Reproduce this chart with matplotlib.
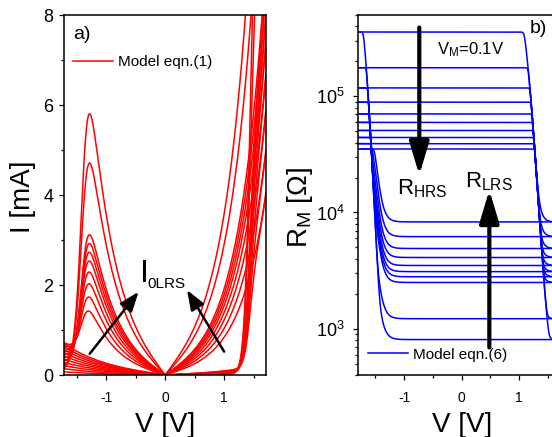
import numpy as np
import matplotlib
matplotlib.use('Agg')
import matplotlib.pyplot as plt
from matplotlib.ticker import LogLocator, NullFormatter, LogFormatterMathtext

plt.rcParams['font.family'] = ['Liberation Sans', 'DejaVu Sans']
plt.rcParams['mathtext.fontset'] = 'custom'
plt.rcParams['mathtext.rm'] = 'Liberation Sans'
plt.rcParams['mathtext.it'] = 'Liberation Sans:italic'
plt.rcParams['mathtext.bf'] = 'Liberation Sans:bold'
plt.rcParams['axes.unicode_minus'] = False

# ---------------- data ----------------
# panel a) : peak LRS current (mA) near V=-1.28 V, HRS current (mA) at V=-1.71 V
peak_current = [5.8, 4.7, 3.1, 2.9, 2.7, 2.5, 2.25, 1.98, 1.68, 1.36]
hrs_edge_current = [0.07, 0.14, 0.21, 0.28, 0.35, 0.42, 0.49, 0.56, 0.63, 0.70]
# panel b) : resistance levels (Ohm)
r_hrs = [357e3, 176e3, 118e3, 89e3, 70.5e3, 59.6e3, 50.8e3, 44.2e3, 39.1e3, 35.2e3]
r_lrs = [807, 1220, 2500, 2800, 3100, 3500, 4100, 4900, 6200, 8300]

x_ticks = [-1, 0, 1]
x_minor = [-1.5, -0.5, 0.5, 1.5]
ya_ticks = [0, 2, 4, 6, 8]
ya_minor = [1, 3, 5, 7]

RED = '#ff0000'
BLUE = '#0000ff'

# ---------------- figure ----------------
W, H = 552, 437
fig = plt.figure(figsize=(W / 100, H / 100), dpi=100)
axA = fig.add_axes([64.3 / W, 1 - 375 / H, (266 - 64.3) / W, 360 / H])
axB = fig.add_axes([358 / W, 1 - 375 / H, 3.6 * 57.6 / W, 360 / H])

# ---------------- panel a ----------------
vmax_a = 1.71
b_L, b_H = 2.2, 1.3
v_reset, w_reset = 1.393, 0.06
v_set, w_set = 1.42, 0.05
hrs_pos = 0.35


def reset_frac(v):
    h = 1.0 / (1.0 + np.exp((np.abs(v) - v_reset) / w_reset))
    return np.where(v < 0, h, 1.0)


def set_frac(v):
    s = 1.0 / (1.0 + np.exp(-(v - v_set) / w_set))
    return np.where(v > 0, s, 0.0)


xx = np.linspace(0, vmax_a, 2000)
norm = np.max(np.sinh(b_L * xx) * reset_frac(-xx))
V_back = np.linspace(vmax_a, -vmax_a, 1200)
V_fwd = np.linspace(-vmax_a, vmax_a, 1200)
for i, (pk, he) in enumerate(zip(peak_current, hrs_edge_current)):
    k = pk / norm
    c = he / np.sinh(b_H * vmax_a)
    fac_b = np.where(V_back < 0, 1.0, hrs_pos)
    ih_b = fac_b * c * np.sinh(b_H * np.abs(V_back))
    h = reset_frac(V_back)
    I_back = h * k * np.sinh(b_L * np.abs(V_back)) + (1 - h) * ih_b
    fac_f = np.where(V_fwd < 0, 1.0, hrs_pos)
    ih_f = fac_f * c * np.sinh(b_H * np.abs(V_fwd))
    s = set_frac(V_fwd)
    I_fwd = s * k * np.sinh(b_L * np.abs(V_fwd)) + (1 - s) * ih_f
    axA.plot(V_back, I_back, color=RED, lw=1.1, label='Model eqn.(1)' if i == 0 else None)
    axA.plot(V_fwd, I_fwd, color=RED, lw=1.1)

axA.set_xlim(-vmax_a, vmax_a)
axA.set_ylim(0, 8)
axA.set_xticks(x_ticks)
axA.set_xticks(x_minor, minor=True)
axA.set_yticks(ya_ticks)
axA.set_yticks(ya_minor, minor=True)
axA.tick_params(axis='x', which='major', labelsize=10, pad=8)
axA.tick_params(axis='y', which='major', labelsize=13, pad=4)
axA.set_xlabel('V [V]', fontsize=20)
axA.set_ylabel('I [mA]', fontsize=20)
axA.xaxis.set_label_coords(0.5, -0.104)
axA.yaxis.set_label_coords(-0.14, 0.494)
axA.text(0.043, 0.946, 'a)', transform=axA.transAxes, fontsize=14, va='center', ha='left')
axA.legend(loc='center left', bbox_to_anchor=(0.043, 0.869), frameon=False, fontsize=11,
           handlelength=2.6, handletextpad=0.35, borderpad=0, borderaxespad=0)
axA.text(-0.43, 2.07, 'I', fontsize=23, ha='left', va='baseline')
axA.text(-0.30, 1.93, '0LRS', fontsize=11, ha='left', va='baseline')
arrowA = dict(arrowstyle='-|>,head_length=1.2,head_width=0.45', lw=1.8, color='black',
              mutation_scale=10, shrinkA=0, shrinkB=0)
axA.annotate('', xy=(-0.45, 1.85), xytext=(-1.28, 0.47), arrowprops=arrowA)
axA.annotate('', xy=(0.37, 1.89), xytext=(1.0, 0.52), arrowprops=arrowA)

# ---------------- panel b ----------------
vmax_b = 1.8
V = np.linspace(-vmax_b, vmax_b, 1500)


def falling(v, c, w, amp, lo=0.0):
    """smooth step that is high for v < c and low for v > c"""
    return lo + amp / (1 + np.exp((v - c) / w))


def smin(a, b, k):
    return -k * np.logaddexp(-a / k, -b / k)


def smax(a, b, k):
    return k * np.logaddexp(a / k, b / k)


E_left = falling(V, -1.522, 0.11, 4.2, lo=2.0)
E_right = falling(V, 1.33, 0.145, 4.2, lo=2.0)
G_left = falling(V, -1.482, 0.065, 1.0)
G_right = falling(V, 1.27, 0.05, 1.0)
for i, (rh, rl) in enumerate(zip(r_hrs, r_lrs)):
    lh, ll = np.log10(rh), np.log10(rl)
    logF = smin(lh, smax(ll + G_right, E_right, 0.07), 0.04)
    logB = smin(lh, smax(ll + G_left, E_left, 0.07), 0.04)
    axB.plot(V, 10 ** logF, color=BLUE, lw=1.1, label='Model eqn.(6)' if i == 0 else None)
    axB.plot(V, 10 ** logB, color=BLUE, lw=1.1)

axB.set_yscale('log')
axB.set_xlim(-vmax_b, vmax_b)
axB.set_ylim(400, 5e5)
axB.set_xticks(x_ticks)
axB.set_xticks(x_minor, minor=True)
axB.yaxis.set_major_locator(LogLocator(base=10, numticks=10))
axB.yaxis.set_minor_locator(LogLocator(base=10, subs=np.arange(2, 10), numticks=20))
axB.yaxis.set_minor_formatter(NullFormatter())
axB.yaxis.set_major_formatter(LogFormatterMathtext())
axB.tick_params(axis='x', which='major', labelsize=10, pad=8)
axB.tick_params(axis='y', which='major', labelsize=13, pad=6)
axB.set_xlabel('V [V]', fontsize=20)
axB.set_ylabel(r'R$_{\mathrm{M}}$ [Ω]', fontsize=20)
axB.xaxis.set_label_coords(0.5, -0.104)
axB.yaxis.set_label_coords(-0.205, 0.465)
axB.text(0.829, 0.9625, 'b)', transform=axB.transAxes, fontsize=14, va='center', ha='left')
axB.text(0.381, 0.903, r'V$_{\mathrm{M}}$=0.1V', transform=axB.transAxes, fontsize=12,
         va='center', ha='left')
axB.legend(loc='center left', bbox_to_anchor=(0.048, 0.056), frameon=False, fontsize=11,
           handlelength=2.6, handletextpad=0.35, borderpad=0, borderaxespad=0)
arrowB = dict(arrowstyle='-|>,head_length=1.0,head_width=0.3', lw=3, color='black',
              mutation_scale=20, shrinkA=0, shrinkB=0)
axB.annotate('', xy=(-0.736, 2.1e4), xytext=(-0.736, 3.9e5), arrowprops=arrowB)
axB.annotate('', xy=(0.48, 1.56e4), xytext=(0.48, 690), arrowprops=arrowB)
axB.text(-1.123, 1.42e4, r'R$_{\mathrm{HRS}}$', fontsize=16, ha='left', va='baseline')
axB.text(0.057, 1.66e4, r'R$_{\mathrm{LRS}}$', fontsize=16, ha='left', va='baseline')

for ax in (axA, axB):
    for sp in ax.spines.values():
        sp.set_linewidth(1.1)
    ax.tick_params(which='both', direction='out', top=False, right=False, width=0.9)
    ax.tick_params(which='major', length=3.8)
    ax.tick_params(which='minor', length=2.4)

fig.savefig('out.png', dpi=100)
